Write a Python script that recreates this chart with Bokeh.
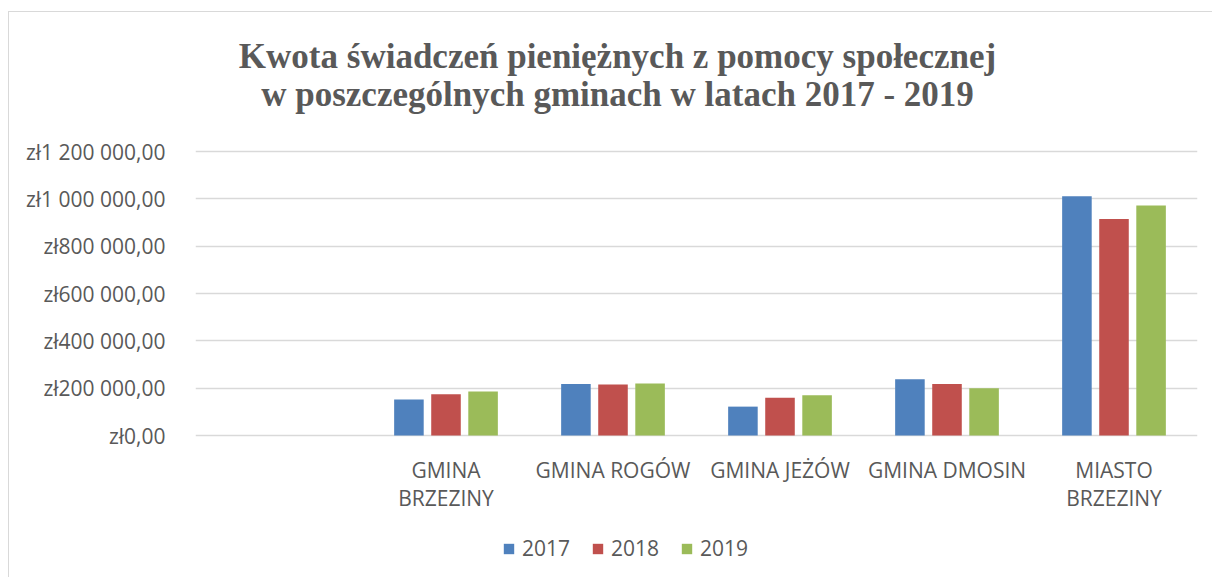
from bokeh.plotting import figure
from bokeh.models import FactorRange, Range1d, FixedTicker, ColumnDataSource, Legend, LegendItem, Label
from bokeh.transform import dodge
from bokeh.core.properties import value
from bokeh.embed import file_html
from bokeh.resources import INLINE

all_slots = [" ", "GMINA\nBRZEZINY", "GMINA ROGÓW", "GMINA JEŻÓW", "GMINA DMOSIN", "MIASTO\nBRZEZINY"]
categories = ["GMINA\nBRZEZINY", "GMINA ROGÓW", "GMINA JEŻÓW", "GMINA DMOSIN", "MIASTO\nBRZEZINY"]
years = ["2017", "2018", "2019"]
values_2017 = [152000, 218000, 122000, 238000, 1011000]
values_2018 = [174000, 215000, 160000, 218000, 915000]
values_2019 = [186000, 220000, 170000, 200000, 972000]
y_ticks = [0, 200000, 400000, 600000, 800000, 1000000, 1200000]
y_tick_labels = ["zł0,00", "zł200 000,00", "zł400 000,00", "zł600 000,00",
                 "zł800 000,00", "zł1 000 000,00", "zł1 200 000,00"]
title_lines = ["Kwota świadczeń pieniężnych z pomocy społecznej",
               "w poszczególnych gminach w latach 2017 - 2019"]
colors = ["#4f81bd", "#c0504d", "#9bbb59"]

src = ColumnDataSource(dict(cat=categories, y2017=values_2017, y2018=values_2018, y2019=values_2019,
                            base=[0] * len(categories)))

# plot frame spans the whole chart height; value axis: 0 at 423px from top, 1.2M at 139px
W, H = 1204, 566
px_per_val = (423 - 139) / 1200000.0
y_top = 1200000 + 139 / px_per_val
y_bot = -(H - 423) / px_per_val

p = figure(width=W, height=H, x_range=FactorRange(*all_slots), y_range=Range1d(y_bot, y_top),
           output_backend="svg", toolbar_location=None,
           min_border_left=186, min_border_right=16, min_border_top=0, min_border_bottom=0)
p.styles = {"border-left": "1px solid #d9d9d9", "border-top": "1px solid #d9d9d9",
            "margin-left": "8px", "margin-top": "11px"}
p.outline_line_color = None
p.background_fill_color = "white"
p.border_fill_color = "white"

renderers = []
for yr, col, off in zip(years, colors, [-0.222, 0.0, 0.222]):
    r = p.vbar(x=dodge("cat", off, range=p.x_range), top="y" + yr, width=0.177, bottom=0,
               source=src, fill_color=col, line_color=None)
    renderers.append(r)

# category labels under the value axis
p.text(x="cat", y="base", text="cat", source=src, y_offset=20,
       text_align="center", text_baseline="top", text_font=value("Open Sans"),
       text_font_size="21px", text_color="#595959", text_line_height=1.0)

p.xaxis.visible = False
p.yaxis.ticker = FixedTicker(ticks=y_ticks)
p.yaxis.major_label_overrides = {t: l for t, l in zip(y_ticks, y_tick_labels)}
p.yaxis.axis_line_color = None
p.yaxis.major_tick_line_color = None
p.yaxis.minor_tick_line_color = None
p.yaxis.major_label_text_font = "Open Sans"
p.yaxis.major_label_text_font_size = "21px"
p.yaxis.major_label_text_color = "#595959"
p.yaxis.major_label_standoff = 24
p.xgrid.grid_line_color = None
p.ygrid.ticker = FixedTicker(ticks=y_ticks)
p.ygrid.grid_line_color = "#d9d9d9"
p.ygrid.grid_line_width = 1.5

legend = Legend(items=[LegendItem(label=yr, renderers=[r]) for yr, r in zip(years, renderers)],
                orientation="horizontal", location=(307, 16), margin=0, padding=0,
                label_text_font="Open Sans", label_text_font_size="21px", label_text_color="#595959",
                glyph_width=13, glyph_height=13, spacing=21, label_standoff=7,
                border_line_color=None, background_fill_alpha=0)
p.add_layout(legend, "center")

for t, yy in zip(title_lines, [522, 484]):
    p.add_layout(Label(x=422, y=yy, x_units="screen", y_units="screen", text=t,
                       text_align="center", text_baseline="alphabetic",
                       text_font="Liberation Serif", text_font_style="bold",
                       text_font_size="35px", text_color="#595959"))

open("out.html", "w").write(file_html(p, INLINE))
